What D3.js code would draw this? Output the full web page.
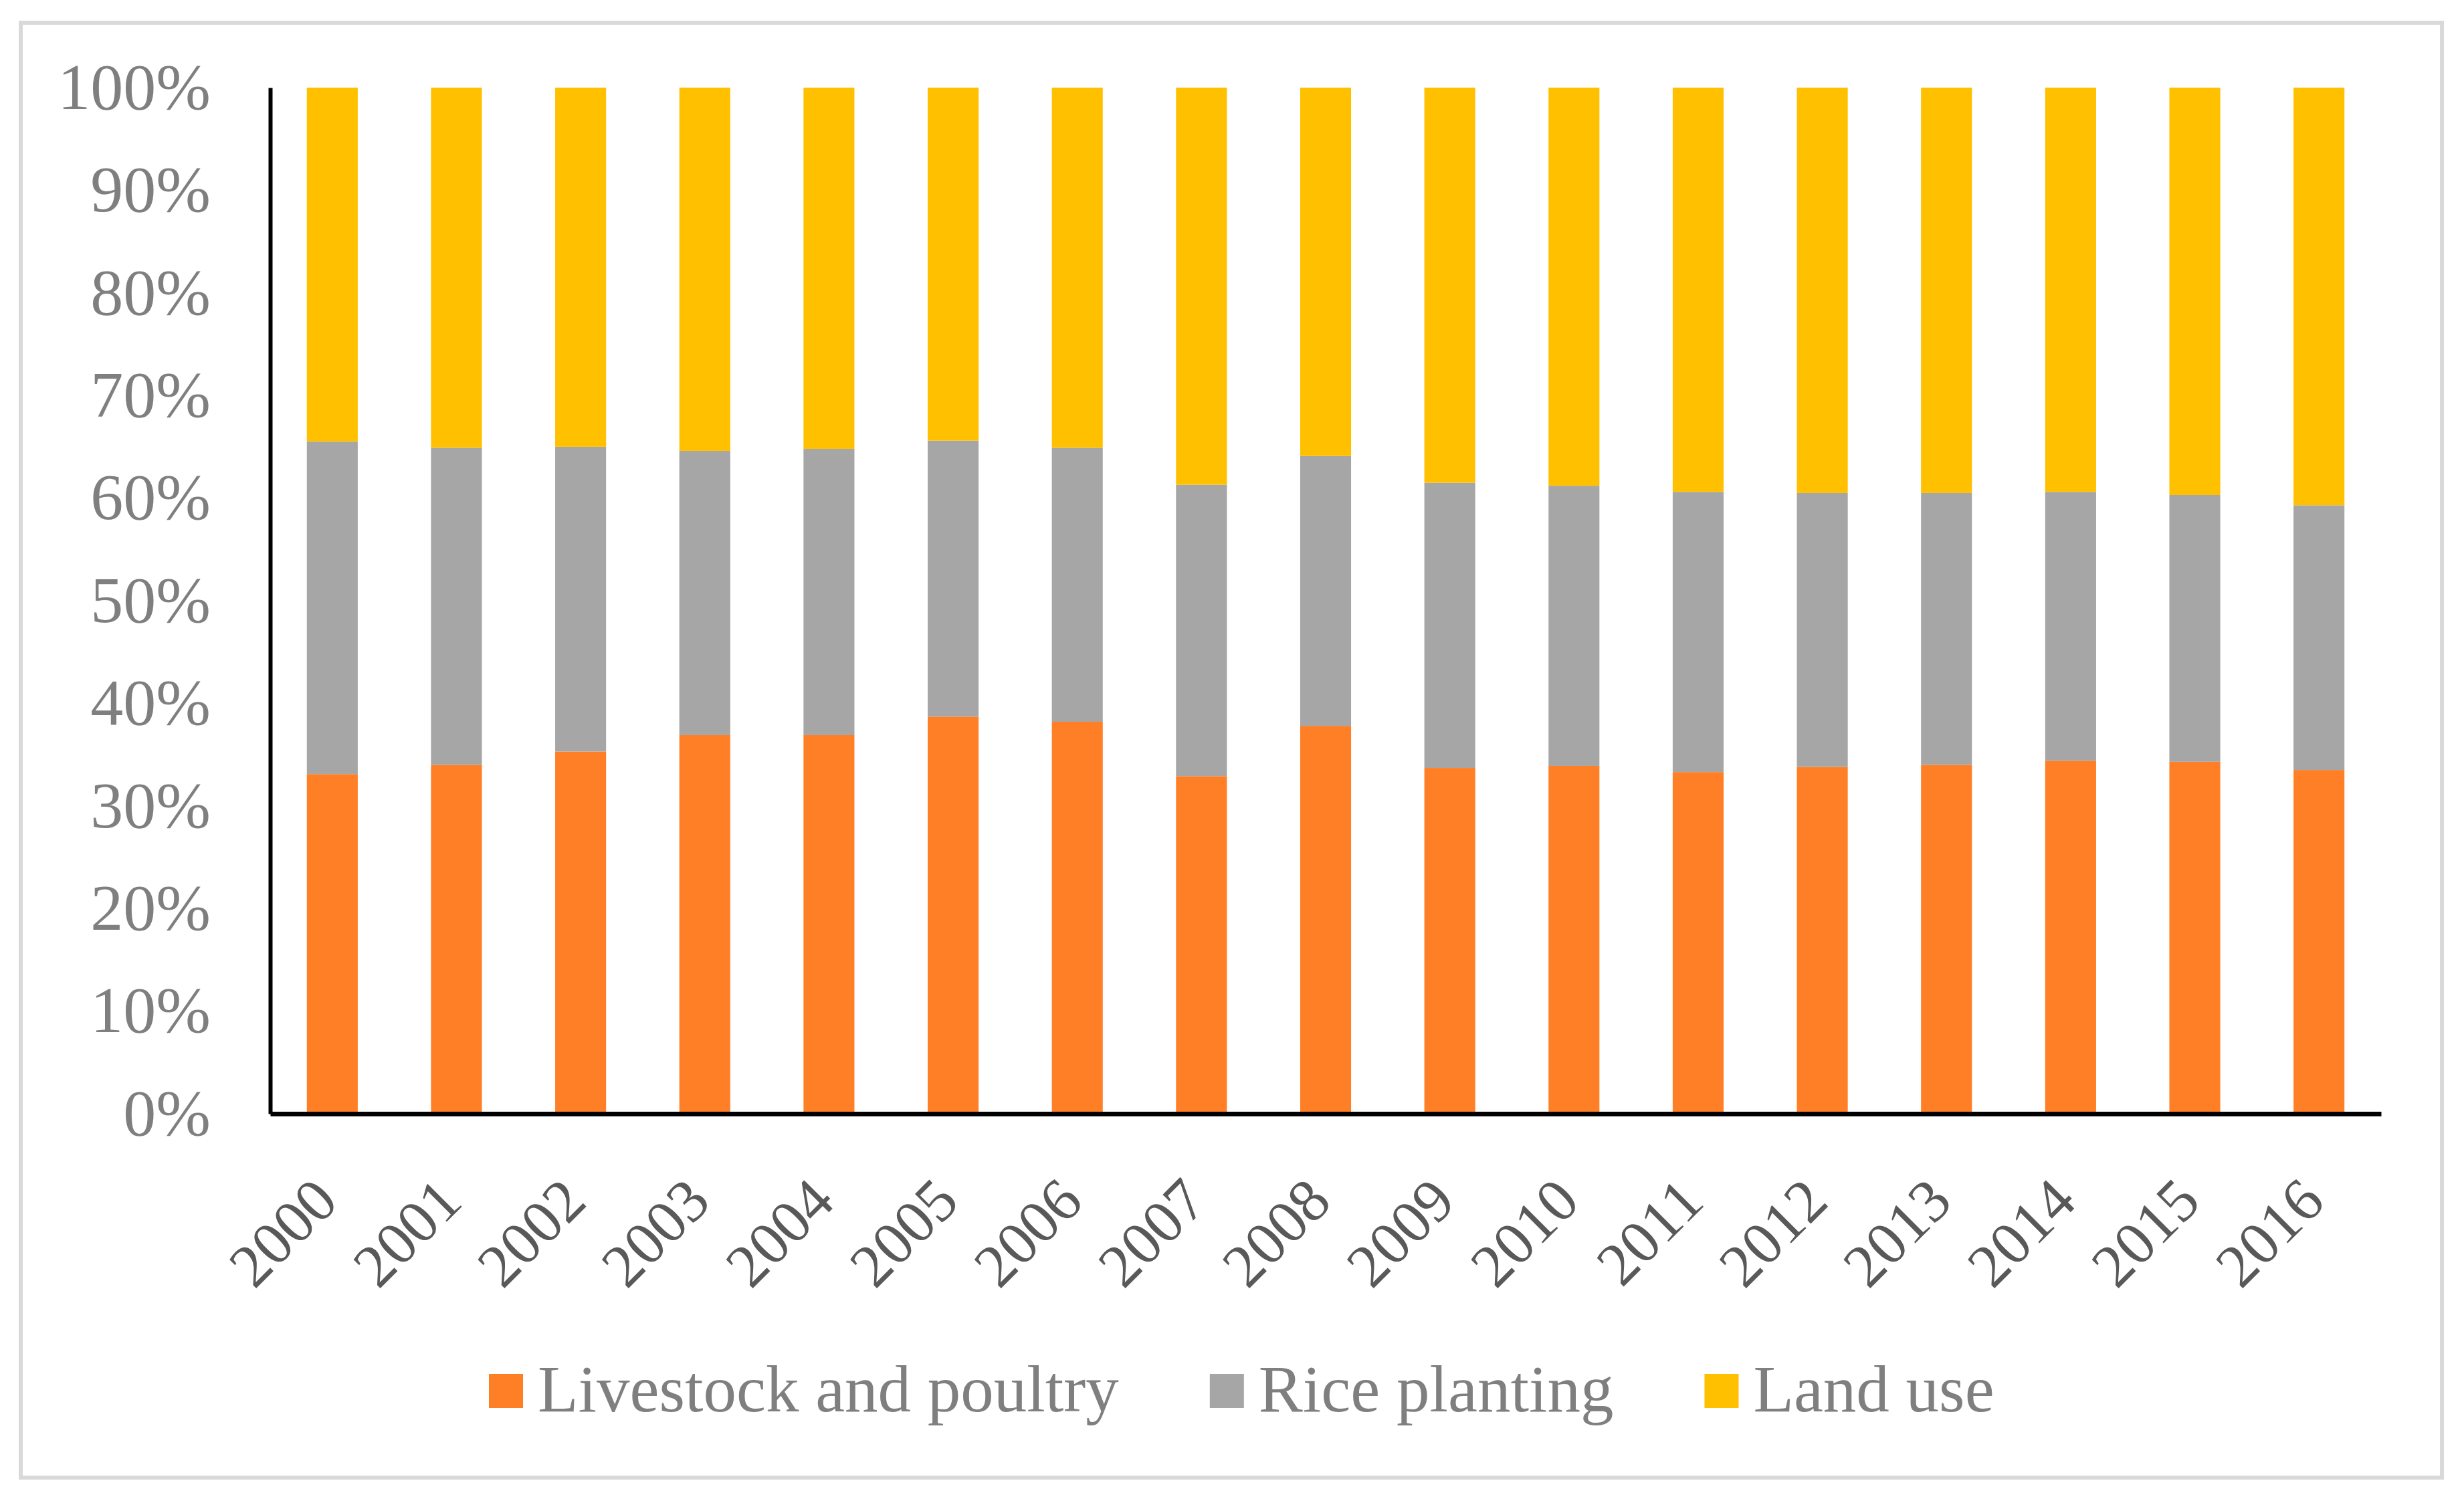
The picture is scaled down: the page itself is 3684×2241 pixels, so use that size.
<!DOCTYPE html>
<html>
<head>
<meta charset="utf-8">
<script src="https://cdn.jsdelivr.net/npm/d3@7"></script>
<style>
  body { margin: 0; background: #fff; }
  text { font-family: "Liberation Serif", "Times New Roman", serif; }
</style>
</head>
<body>
<svg id="chart" width="3684" height="2241"></svg>
<script>
// Shares (%) per year
const years = ["2000", "2001", "2002", "2003", "2004", "2005", "2006", "2007", "2008",
               "2009", "2010", "2011", "2012", "2013", "2014", "2015", "2016"];
const livestock = [33.1, 34.0, 35.3, 36.9, 36.9, 38.7, 38.2, 32.9, 37.8, 33.7, 33.9, 33.3, 33.8, 34.0, 34.4, 34.3, 33.5];
const rice      = [32.4, 30.9, 29.7, 27.7, 27.9, 26.9, 26.7, 28.4, 26.3, 27.8, 27.3, 27.3, 26.7, 26.5, 26.2, 26.0, 25.8];
const landUse   = [34.5, 35.1, 35.0, 35.4, 35.2, 34.4, 35.1, 38.7, 35.9, 38.5, 38.8, 39.4, 39.5, 39.5, 39.4, 39.7, 40.7];
const seriesNames = ["Livestock and poultry", "Rice planting", "Land use"];
const seriesColors = ["#ff7f27", "#a6a6a6", "#ffc000"];
const yTicks = [0, 0.1, 0.2, 0.3, 0.4, 0.5, 0.6, 0.7, 0.8, 0.9, 1];

const svg = d3.select("#chart");

// chart border
svg.append("rect")
    .attr("x", 31).attr("y", 34)
    .attr("width", 3620).attr("height", 2175)
    .attr("fill", "none")
    .attr("stroke", "#d9d9d9")
    .attr("stroke-width", 6);

const plotLeft = 404, plotRight = 3560, plotTop = 131, plotBottom = 1665;

// build rows for the stack
const rows = years.map((y, i) => ({
    year: y,
    [seriesNames[0]]: livestock[i],
    [seriesNames[1]]: rice[i],
    [seriesNames[2]]: landUse[i]
}));

const stacked = d3.stack()
    .keys(seriesNames)
    .offset(d3.stackOffsetExpand)(rows);

const x = d3.scaleBand()
    .domain(years)
    .range([plotLeft, plotRight])
    .paddingInner(0.59)
    .paddingOuter(0.295);

const y = d3.scaleLinear()
    .domain([0, 1])
    .range([plotBottom, plotTop]);

const color = d3.scaleOrdinal().domain(seriesNames).range(seriesColors);

// bars
svg.append("g")
  .selectAll("g")
  .data(stacked)
  .join("g")
    .attr("fill", d => color(d.key))
  .selectAll("rect")
  .data(d => d)
  .join("rect")
    .attr("x", d => x(d.data.year))
    .attr("y", d => y(d[1]))
    .attr("height", d => y(d[0]) - y(d[1]))
    .attr("width", x.bandwidth());

// y axis
const yAxis = svg.append("g")
    .attr("transform", `translate(${plotLeft},0)`)
    .call(d3.axisLeft(y).tickValues(yTicks).tickFormat(d3.format(".0%")).tickSize(0).tickPadding(89));
yAxis.select(".domain").attr("stroke", "#000").attr("stroke-width", 6);
yAxis.selectAll("text")
    .attr("fill", "#7f7f7f")
    .style("font-size", "98px");

// x axis
const xAxis = svg.append("g")
    .attr("transform", `translate(0,${plotBottom})`)
    .call(d3.axisBottom(x).tickSize(0).tickPadding(0));
xAxis.select(".domain").attr("stroke", "#000").attr("stroke-width", 7);
xAxis.selectAll("text")
    .attr("fill", "#595959")
    .style("font-size", "91px")
    .attr("text-anchor", "end")
    .attr("dy", "0")
    .attr("transform", "translate(12,135) rotate(-45)");

// legend
const legend = svg.append("g");
let lx = 731;
seriesNames.forEach((name, i) => {
    legend.append("rect")
        .attr("x", lx).attr("y", 2054)
        .attr("width", 51).attr("height", 51)
        .attr("fill", seriesColors[i]);
    const t = legend.append("text")
        .attr("x", lx + 73).attr("y", 2110)
        .attr("fill", "#7f7f7f")
        .style("font-size", "99px")
        .text(name);
    lx += 73 + t.node().getComputedTextLength() + 136;
});
</script>
</body>
</html>
